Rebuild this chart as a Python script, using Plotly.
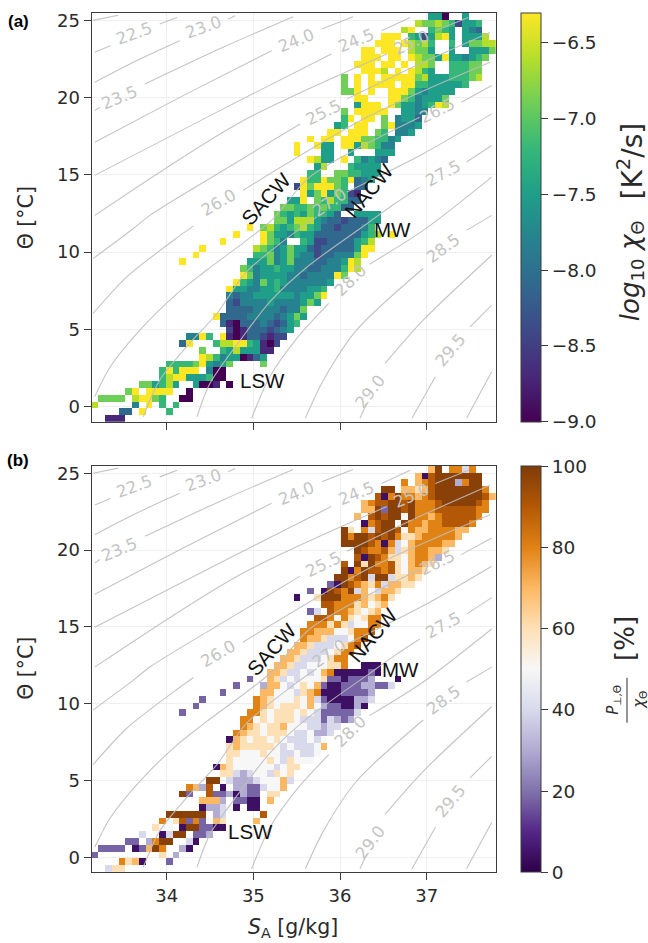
import plotly.graph_objects as go

# Binned grid of the two panels (60 x 60 cells), rows listed from the top of the panel
N_CELLS = 60
SA_RANGE = [33.135, 37.80]
THETA_RANGE = [-0.97, 25.48]

# Level tables: each character in the rows below is an index in these lists
LEVELS_CHI = [-9.0, -8.7, -8.4, -8.1, -7.8, -7.5, -7.2, -6.9, -6.6, -6.3]
LEVELS_RATIO = [4, 18, 30, 40, 50, 60, 70, 80, 90, 98]

# (first column, cell levels) for each row, '.' means empty
ROWS_CHI = [
    (50, "550..5"), (48, "8778762556"), (46, "89..6765.543"), (43, "999.6525895.5558"),
    (42, "999.98786..6.57788"), (40, "99.999.8775..5..5557"), (40, "999.99.987759554567"),
    (39, "999.99.9.887..66677"), (40, "9998.9.9865..66677"), (37, "7.9.9.999997855566678"),
    (37, "7.9.9999.9966555556"), (37, "779.9..9997545555"), (39, "99...997645557"),
    (39, "5999.975545698"), (37, "7.99999..5544"), (37, "69.99.7.4553"),
    (36, "56.99..794445"), (35, "99.999.76.445"), (32, "9.99.999776645"),
    (30, "9..955.99587644"), (30, "9...55..5...555"), (32, "9855.9.64543"),
    (33, "58...65555"), (32, "66..7766555"), (31, "96697769345"), (30, "29799976.33"),
    (31, "957957621"), (29, "559.7686633"), (28, "77667676633"), (27, "7656576653..5555"),
    (27, "7758885433233355"), (23, "9.78656786533233346"), (21, "9...975546553333333568.9"),
    (19, "9.....9764..65223333568"), (16, "9.......87645755" + "3233333599"),
    (15, "9........66745754423344479"), (13, "9.........55574574443344598"),
    (22, "764556554433444698"), (22, "9745555443444497"), (21, "965475654444445"),
    (20, "955445564444556"), (20, "434455555545579"), (20, "32444454444575"),
    (20, "333344443447"), (18, "93333444434575"), (19, "310333432356"),
    (20, "2013332345"), (14, "4496.9101332122"), (13, "39...6889965102"),
    (16, "7..65855511"), (16, "9864550135"), (11, "6666795457....7"), (10, "696999.400"),
    (10, "6899555600"), (7, "775685..5001.0"), (5, "79.9999..0"), (1, "7777.89976..00"),
    (0, "8.....4.9.6.6"), (4, "33.9...6"), (2, "111"),
]

ROWS_RATIO = [
    (50, "69.7737"), (48, "6089999999"), (46, "7.6789992799"), (43, "99.665689999999" + "7"),
    (42, "807977678999999986"), (40, "6788998977789999987"), (40, "6691998977788888877"),
    (39, "6.89899497767888887"), (40, "07899497767788887"), (37, "95.7389984766777766"),
    (37, "979989897556777776"), (37, "99998707346777766"), (39, "98778635677665"),
    (39, "8098755467762"), (37, "8.959778546765"), (37, "9079887854665"),
    (36, "9978939935565"), (35, "1098765736655"), (32, "1.098793643665"),
    (30, "0..599977765675"), (30, "4...8877756456"), (32, "13.87765456"),
    (33, "8874754577"), (32, "77757534477"), (31, "77666445778"), (31, "7665333478"),
    (30, "6653334578"), (29, "6653334577"), (28, "6653334577"), (27, "66533444557..000"),
    (26, "66533434670000010"), (23, "1..6534344451101112...0"),
    (21, "1...26643454610011122113"), (19, "1.....66444356700011112"),
    (16, "1.......76544454631" + "0000223"), (15, "1........76545554642110020"),
    (13, "1.........77545554543111113"), (22, "77454555433313212"),
    (22, "765455644433233"), (21, "765545554334223"), (20, "06545545433343"),
    (20, "565555543433346"), (20, "55444544334334"), (20, "5444445435444"),
    (18, "0654444443455"), (19, "55323443545"), (17, "99.3222344463"),
    (14, "7628.0.22113446"), (13, "91..81120211.55"), (16, "6662.1100.6"),
    (16, "022340.00"), (11, "999999.23.....8"), (10, "7458171465....6"),
    (9, "544.0991100"), (7, "3..0399.112"), (5, "11.2799..30"), (1, "1111.01697..20"),
    (0, "1.........5.2"), (4, "7560...1"), (2, "355"),
]

# Isopycnals (SA, Theta), broken where their labels sit
ISO_SA = [
    [33.15, 33.44], [33.17, 33.35], [33.92, 34.12], [33.17, 33.65, 34.15], [34.71, 34.79],
    [33.17, 33.23], [33.75, 34.65, 35.46], [33.17, 34.19, 35.21], [35.79, 36.15],
    [33.17, 34.54, 35.90], [36.48, 36.81], [33.17, 34.85, 36.54], [37.10, 37.48],
    [33.15, 33.62, 33.81, 34.65, 35.54], [36.08, 36.96, 37.73],
    [33.15, 33.54, 34.08, 34.31], [34.88, 36.31, 37.73],
    [33.17, 33.35, 33.69, 34.12, 34.46, 35.21, 35.65, 36.92], [37.40, 37.75],
    [33.73, 33.92, 34.23, 34.58, 34.92, 35.46, 35.73], [36.08, 36.96, 37.75],
    [34.35, 34.50, 34.85, 35.19, 35.62, 36.31, 36.63, 36.92], [37.46, 37.75],
    [34.98, 35.19, 35.50, 35.87], [36.34, 36.96, 37.75],
    [35.60, 35.81, 36.19, 36.96], [37.46, 37.75],
    [36.23, 36.31], [36.52, 36.96, 37.75],
    [36.83, 37.10], [37.50, 37.75],
    [37.46, 37.75],
]
ISO_THETA = [
    [25.00, 25.33], [22.93, 23.36], [24.76, 25.19], [21.00, 22.39, 23.69], [25.09, 25.30],
    [19.16, 19.38], [20.89, 23.26, 25.24], [17.12, 20.13, 23.04], [24.44, 25.24],
    [14.97, 18.95, 22.83], [24.33, 25.19], [12.38, 18.41, 22.83], [24.33, 25.19],
    [9.58, 11.55, 12.40, 15.29, 18.30], [19.92, 22.29, 24.22],
    [6.03, 8.40, 10.77, 11.70], [14.00, 18.73, 22.29],
    [0.65, 2.58, 4.95, 7.32, 8.83, 12.06, 14.86, 18.73], [19.70, 20.78],
    [-0.65, 1.72, 3.88, 6.03, 8.72, 11.20, 12.27], [13.89, 16.37, 18.95],
    [-0.65, 1.51, 4.31, 6.78, 9.04, 11.84, 13.13, 14.21], [15.83, 16.90],
    [-0.75, 1.94, 4.41, 6.68], [9.22, 11.41, 14.86],
    [-0.75, 1.72, 4.95, 8.94], [11.41, 12.38],
    [-0.75, 0.22], [2.80, 5.60, 9.80],
    [-0.75, 1.94], [5.17, 6.57],
    [-0.75, 2.26],
]

ISO_LABELS = ["22.5", "23.0", "23.5", "24.0", "24.5", "25.0", "25.5", "26.0",
              "26.5", "27.0", "27.5", "28.0", "28.5", "29.0", "29.5"]
ISO_LABEL_SA = [33.63, 34.42, 33.46, 35.50, 36.19, 36.83, 35.81, 34.60,
                37.13, 35.88, 37.19, 36.12, 37.19, 36.35, 37.27]
ISO_LABEL_THETA = [24.12, 24.55, 20.03, 23.69, 23.69, 23.58, 19.06, 13.24,
                   19.16, 13.24, 15.07, 8.18, 10.23, 0.97, 3.66]
ISO_LABEL_ANGLE = [-20, -20, -22, -22, -22, -24, -26, -30, -26, -34, -28, -44, -36, -52, -50]

WATER_NAMES = ["SACW", "NACW", "MW", "LSW"]
WATER_SA_A = [35.15, 36.33, 36.60, 35.10]
WATER_TH_A = [13.46, 14.00, 11.46, 1.72]
WATER_SA_B = [35.21, 36.38, 36.70, 34.97]
WATER_TH_B = [13.50, 14.50, 12.20, 1.70]
WATER_ANGLE = [-48, -50, 0, 0]

X_TICKS = [34, 35, 36, 37]
Y_TICKS = [0, 5, 10, 15, 20, 25]
CB_TICKS_A = [-6.5, -7.0, -7.5, -8.0, -8.5, -9.0]
CB_TICKS_B = [0, 20, 40, 60, 80, 100]

PUOR_R = ["#2d004b", "#542788", "#8073ac", "#b2abd2", "#d8daeb", "#f7f7f7",
          "#fee0b6", "#fdb863", "#e08214", "#b35806", "#7f3b08"]

W, H = 648, 943
AX_L, AX_R = 91.7, 496.0
A_T, A_B = 10.0, 420.0
B_T, B_B = 464.3, 872.0
CB_L = 521.0
TICK_FONT = dict(family="DejaVu Sans", size=18, color="#2a2a2a")
CB_FONT = dict(family="DejaVu Sans", size=18.5, color="#2a2a2a")
SPINE = "#3c3c3c"


def grid(rows, levels):
    out = []
    for start, codes in reversed(rows):
        line = [None] * N_CELLS
        for i, c in enumerate(codes):
            if c != ".":
                line[start + i] = levels[int(c)]
        out.append(line)
    return out


dx = (SA_RANGE[1] - SA_RANGE[0]) / N_CELLS
dy = (THETA_RANGE[1] - THETA_RANGE[0]) / N_CELLS

fig = go.Figure()


def colorbar(top, bottom, ticks, fmt):
    return dict(
        x=CB_L / W, xanchor="left", xpad=0, ypad=0, thicknessmode="pixels", thickness=20,
        lenmode="fraction", len=(bottom - top) / H, y=1 - bottom / H, yanchor="bottom",
        outlinecolor=SPINE, outlinewidth=1, tickmode="array", tickvals=ticks,
        ticktext=[fmt(t) for t in ticks], ticks="outside", ticklen=7, tickwidth=1,
        tickcolor=SPINE, tickfont=CB_FONT,
    )


fig.add_trace(go.Heatmap(
    z=grid(ROWS_CHI, LEVELS_CHI), x0=SA_RANGE[0] + dx / 2, dx=dx, y0=THETA_RANGE[0] + dy / 2, dy=dy,
    zmin=-9, zmax=-6.3, colorscale="Viridis", xaxis="x", yaxis="y", hoverongaps=False,
    colorbar=colorbar(A_T, A_B, CB_TICKS_A, lambda t: f"\u2212{abs(t):.1f}"),
))
fig.add_trace(go.Heatmap(
    z=grid(ROWS_RATIO, LEVELS_RATIO), x0=SA_RANGE[0] + dx / 2, dx=dx, y0=THETA_RANGE[0] + dy / 2, dy=dy,
    zmin=0, zmax=100, colorscale=[[i / 10, c] for i, c in enumerate(PUOR_R)],
    xaxis="x2", yaxis="y2", hoverongaps=False,
    colorbar=colorbar(B_T, B_B, CB_TICKS_B, lambda t: str(t)),
))

for xa, ya in (("x", "y"), ("x2", "y2")):
    for sa, th in zip(ISO_SA, ISO_THETA):
        fig.add_trace(go.Scatter(
            x=sa, y=th, mode="lines", xaxis=xa, yaxis=ya, showlegend=False, hoverinfo="skip",
            line=dict(color="rgba(190,190,190,0.9)", width=1.1, shape="spline", smoothing=0.8),
        ))

ann = []
for xa, ya in (("x", "y"), ("x2", "y2")):
    for t, sx, sy, ang in zip(ISO_LABELS, ISO_LABEL_SA, ISO_LABEL_THETA, ISO_LABEL_ANGLE):
        ann.append(dict(text=t, x=sx, y=sy, xref=xa, yref=ya, showarrow=False, textangle=ang,
                        font=dict(family="DejaVu Sans", size=16.5, color="#c4c4c4")))
for (xa, ya, sas, ths) in (("x", "y", WATER_SA_A, WATER_TH_A), ("x2", "y2", WATER_SA_B, WATER_TH_B)):
    for t, sx, sy, ang in zip(WATER_NAMES, sas, ths, WATER_ANGLE):
        ann.append(dict(text=t, x=sx, y=sy, xref=xa, yref=ya, showarrow=False, textangle=ang,
                        font=dict(family="Liberation Sans", size=20.5, color="#111111")))


def paper(text, px, py, size, family="DejaVu Sans", angle=0, color="#2a2a2a"):
    return dict(text=text, x=px / W, y=1 - py / H, xref="paper", yref="paper", showarrow=False,
                textangle=angle, xanchor="center", yanchor="middle",
                font=dict(family=family, size=size, color=color))


ann += [
    paper("<b>(a)</b>", 18, 19, 17, "Liberation Sans", color="#000000"),
    paper("<b>(b)</b>", 18, 459, 17, "Liberation Sans", color="#000000"),
    paper("<i>log</i><sub>10</sub> <i>\u03c7</i><sub>\u0398</sub>", 631, 269, 26, angle=-90),
    paper("[K<sup>2</sup>/s]", 631, 159, 28, angle=-90),
    paper("[%]", 625, 638, 26, angle=-90),
    paper("<i>P</i><sub>\u22a5,\u0398</sub>", 614, 699, 15, angle=-90),
    paper("<i>\u03c7</i><sub>\u0398</sub>", 640, 699, 15, angle=-90),
    paper("\u0398 [\u00b0C]", 26, 216, 20.5, angle=-90),
    paper("\u0398 [\u00b0C]", 26, 668, 20.5, angle=-90),
    paper("<i>S</i><sub>A</sub> [g/kg]", 293, 928, 20.5),
]


def xaxis(anchor, labels):
    return dict(domain=[AX_L / W, AX_R / W], range=SA_RANGE, anchor=anchor, tickmode="array",
                tickvals=X_TICKS, ticks="outside", ticklen=7, tickwidth=1, tickcolor=SPINE,
                showticklabels=labels, tickfont=TICK_FONT, showgrid=True, gridcolor="#efefef",
                gridwidth=1, zeroline=False, showline=True, mirror=True, linecolor=SPINE, linewidth=1.3)


def yaxis(anchor, top, bottom):
    return dict(domain=[1 - bottom / H, 1 - top / H], range=THETA_RANGE, anchor=anchor, tickmode="array",
                tickvals=Y_TICKS, ticks="outside", ticklen=7, tickwidth=1, tickcolor=SPINE,
                tickfont=TICK_FONT, showgrid=True, gridcolor="#efefef", gridwidth=1, zeroline=False,
                showline=True, mirror=True, linecolor=SPINE, linewidth=1.3)


fig.update_layout(
    width=W, height=H, margin=dict(l=0, r=0, t=0, b=0), autosize=False,
    plot_bgcolor="white", paper_bgcolor="white", showlegend=False,
    xaxis=xaxis("y", False), yaxis=yaxis("x", A_T, A_B),
    xaxis2=xaxis("y2", True), yaxis2=yaxis("x2", B_T, B_B),
    annotations=ann,
    # fraction bar of the lower colour-bar title
    shapes=[dict(type="line", xref="paper", yref="paper", x0=627 / W, x1=627 / W,
                 y0=1 - 677 / H, y1=1 - 722 / H, line=dict(color="#2a2a2a", width=1))],
)

fig.write_html("out.html", config={"displayModeBar": False},
               post_script="document.body.style.margin='0';document.body.style.overflow='hidden';")
